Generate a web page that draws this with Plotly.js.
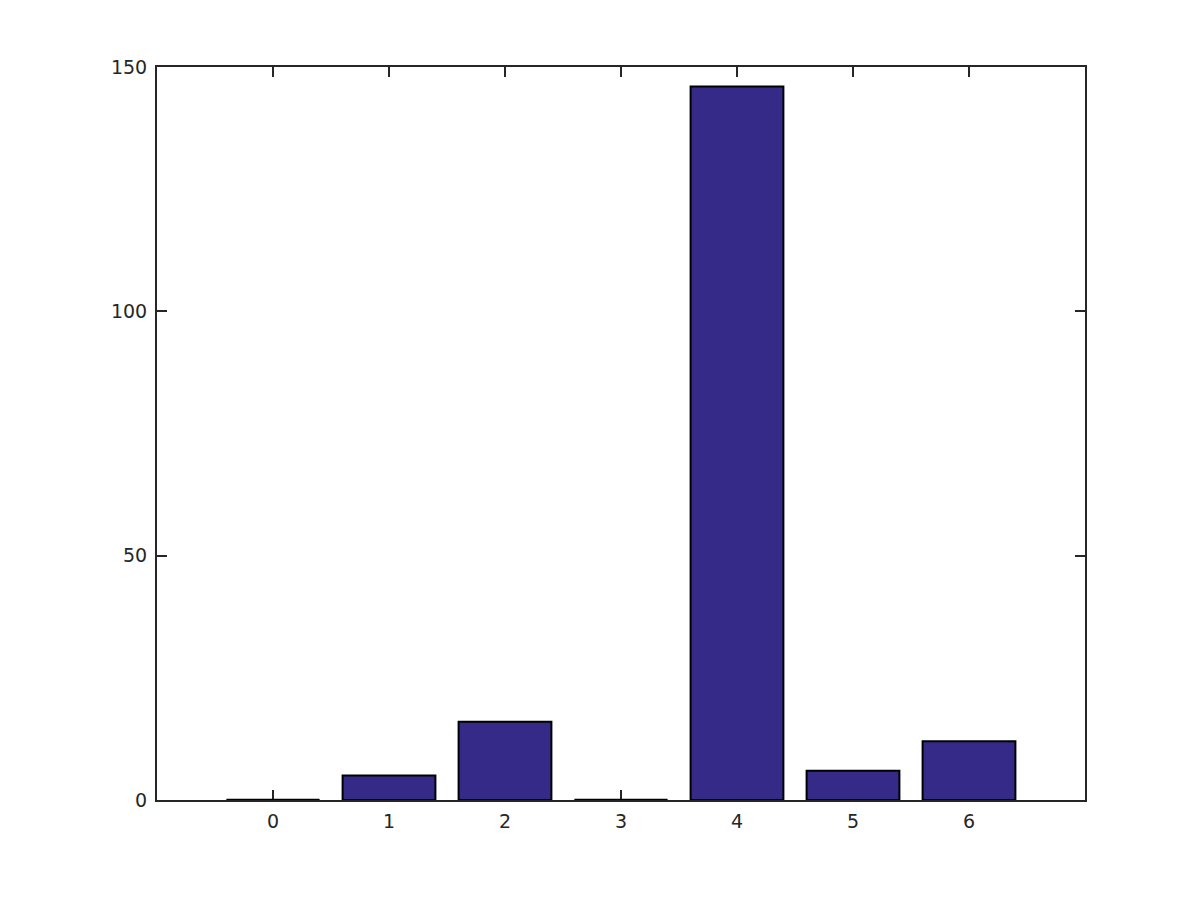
<!DOCTYPE html>
<html>
<head>
<meta charset="utf-8">
<script src="https://cdn.plot.ly/plotly-3.0.1.min.js"></script>
<style>html,body{margin:0;padding:0;background:#fff;}#chart{width:1200px;height:900px;}</style>
</head>
<body>
<div id="chart"></div>
<script>
const categories = [0, 1, 2, 3, 4, 5, 6];
const counts = [0, 5, 16, 0, 146, 6, 12];
const yTicks = [0, 50, 100, 150];

const barWidth = 0.8;
const barColor = '#352a87';

const traces = [{
  type: 'bar',
  x: categories,
  y: counts,
  width: barWidth,
  marker: {color: barColor, line: {color: '#000000', width: 2}},
  hoverinfo: 'x+y'
}];

// zero-height bars are drawn by MATLAB as a flat edge line
categories.forEach((c, i) => {
  if (counts[i] === 0) {
    traces.push({
      type: 'scatter', mode: 'lines',
      x: [c - barWidth / 2, c + barWidth / 2],
      y: [counts[i], counts[i]],
      line: {color: '#000000', width: 2.5},
      showlegend: false, hoverinfo: 'skip', cliponaxis: false
    });
  }
});

const axisCommon = {
  showgrid: false, zeroline: false,
  showline: true, linecolor: '#262626', linewidth: 2, mirror: 'ticks',
  ticks: 'inside', ticklen: 10, tickwidth: 2, tickcolor: '#262626',
  tickfont: {family: 'DejaVu Sans, sans-serif', size: 19, color: '#262626'},
  layer: 'below traces'
};

const layout = {
  width: 1200, height: 900,
  margin: {l: 157, r: 115, t: 67, b: 100},
  paper_bgcolor: '#ffffff', plot_bgcolor: '#ffffff',
  showlegend: false,
  xaxis: Object.assign({}, axisCommon, {
    range: [-1, 7], tickmode: 'array', tickvals: categories, ticktext: categories.map(String),
    ticklabelstandoff: 3
  }),
  yaxis: Object.assign({}, axisCommon, {
    range: [0, 150], tickmode: 'array', tickvals: yTicks, ticktext: yTicks.map(String),
    ticklabelstandoff: 4
  })
};

Plotly.newPlot('chart', traces, layout, {displayModeBar: false, staticPlot: true});
</script>
</body>
</html>
